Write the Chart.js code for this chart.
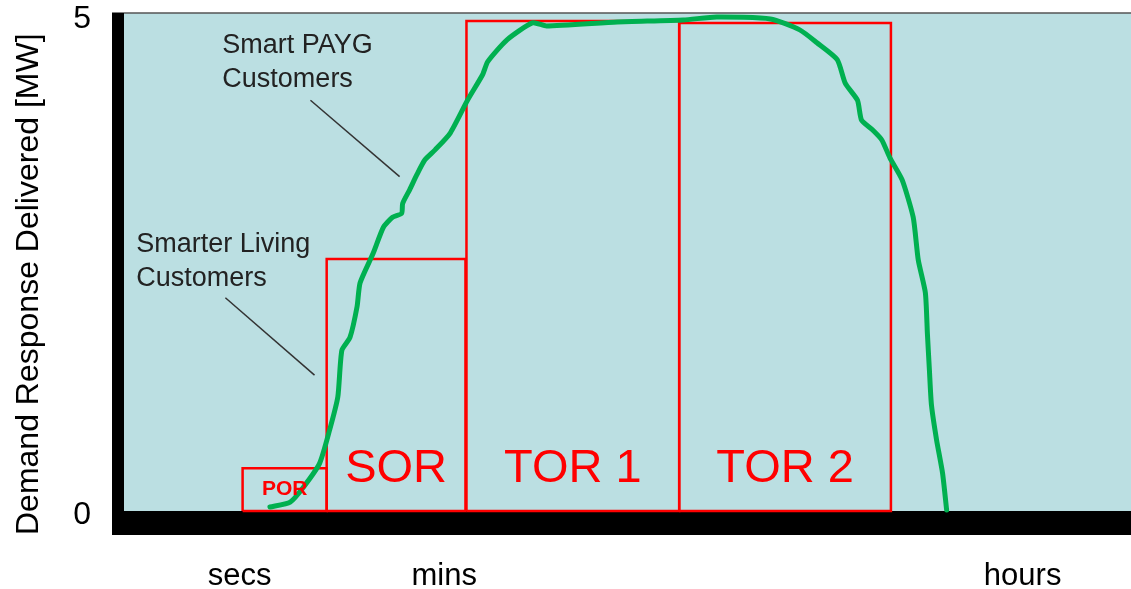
<!DOCTYPE html>
<html>
<head>
<meta charset="utf-8">
<script src="https://cdn.jsdelivr.net/npm/chart.js@4.4.1/dist/chart.umd.min.js"></script>
<style>
  html, body { margin: 0; padding: 0; background: #fff; }
  #wrap { width: 1131px; height: 589px; }
</style>
</head>
<body>
<div id="wrap"><canvas id="chart1"></canvas></div>
<script>
// ====== data (x = relative time 0..100, y = MW) ======
const curveX = [15.0, 17.0, 18.3, 19.9, 20.9, 21.7, 22.1, 22.9, 23.6, 23.9, 25.2, 26.2, 27.1, 28.0, 28.1,
  28.8, 29.5, 30.3, 31.3, 32.8, 34.5, 36.0, 36.5, 38.4, 40.9, 42.3, 49.3, 55.8, 59.1, 64.4, 67.3,
  69.0, 71.0, 71.8, 73.0, 73.4, 74.5, 75.4, 76.2, 77.4, 78.5, 79.0, 79.7, 79.9, 80.1, 80.3, 80.8,
  81.4, 81.8];
const curveY = [0.04, 0.09, 0.24, 0.48, 0.82, 1.15, 1.62, 1.75, 2.06, 2.30, 2.60, 2.86, 2.96, 3.00, 3.10,
  3.24, 3.39, 3.54, 3.64, 3.81, 4.14, 4.40, 4.53, 4.75, 4.92, 4.89, 4.93, 4.95, 4.98, 4.96, 4.85,
  4.72, 4.55, 4.31, 4.14, 3.94, 3.84, 3.74, 3.56, 3.34, 2.96, 2.53, 2.20, 1.79, 1.42, 1.07, 0.72,
  0.38, 0.01];

const boxNames = ['POR', 'SOR', 'TOR 1', 'TOR 2'];
const boxStart = [12.3, 20.6, 34.4, 55.4];
const boxEnd   = [20.6, 34.3, 55.4, 76.3];
const boxTop   = [0.43, 2.54, 4.94, 4.92];

const yTicks = [0, 5];
const xTickValues = [12.0, 32.2, 89.3];
const xTickLabels = ['secs', 'mins', 'hours'];

const noteText = [['Smart PAYG', 'Customers'], ['Smarter Living', 'Customers']];
const noteX = [10.3, 1.8];
const noteY = [4.62, 2.61];
const leaderFrom = [[19.0, 4.14], [10.6, 2.15]];
const leaderTo   = [[27.8, 3.37], [19.4, 1.37]];

const yTitle = 'Demand Response Delivered [MW]';

// ====== styles ======
const FONT = '"Liberation Sans", Arial, sans-serif';
const RED = '#ff0000';
const GREEN = '#00b050';
const PLOT_BG = '#bbdfe2';

// ====== datasets ======
const datasets = [];
datasets.push({
  label: 'Demand response',
  data: curveX.map((x, i) => ({x, y: curveY[i]})),
  borderColor: GREEN,
  borderWidth: 5,
  tension: 0.2,
  borderCapStyle: 'round',
  borderJoinStyle: 'round',
  pointRadius: 0
});
boxNames.forEach((name, i) => {
  datasets.push({
    label: name,
    data: [
      {x: boxStart[i], y: 0}, {x: boxStart[i], y: boxTop[i]},
      {x: boxEnd[i], y: boxTop[i]}, {x: boxEnd[i], y: 0}, {x: boxStart[i], y: 0}
    ],
    borderColor: RED,
    borderWidth: 2.5,
    tension: 0,
    pointRadius: 0
  });
});
leaderFrom.forEach((p, i) => {
  datasets.push({
    label: 'leader ' + i,
    data: [{x: p[0], y: p[1]}, {x: leaderTo[i][0], y: leaderTo[i][1]}],
    borderColor: '#333',
    borderWidth: 1.5,
    pointRadius: 0
  });
});

// ====== frame, labels, notes ======
const framePlugin = {
  id: 'frame',
  beforeDatasetsDraw(chart) {
    const {ctx, chartArea: a, scales: {y}} = chart;
    const y0 = y.getPixelForValue(0);
    ctx.save();
    ctx.fillStyle = PLOT_BG;
    ctx.fillRect(a.left - 6, a.top, a.right - a.left + 6, a.bottom - a.top);
    ctx.strokeStyle = '#555';
    ctx.lineWidth = 1.5;
    ctx.beginPath();
    ctx.moveTo(a.left - 6, a.top);
    ctx.lineTo(a.right, a.top);
    ctx.stroke();
    ctx.fillStyle = '#000';
    ctx.fillRect(a.left - 6, a.top, 12, a.bottom + 12 - a.top);
    ctx.fillRect(a.left - 6, y0, a.right - a.left + 6, a.bottom + 12 - y0);
    ctx.restore();
  },
  afterDatasetsDraw(chart) {
    const {ctx, chartArea: a, scales: {x, y}} = chart;
    ctx.save();

    // box labels
    ctx.fillStyle = RED;
    ctx.textAlign = 'center';
    ctx.textBaseline = 'middle';
    boxNames.forEach((name, i) => {
      const cx = (x.getPixelForValue(boxStart[i]) + x.getPixelForValue(boxEnd[i])) / 2;
      const cy = y.getPixelForValue(Math.min(boxTop[i] / 2, 0.42));
      ctx.font = i === 0 ? `bold 21px ${FONT}` : `47px ${FONT}`;
      ctx.fillText(name, cx, cy);
    });

    // notes
    ctx.fillStyle = '#222';
    ctx.textAlign = 'left';
    ctx.textBaseline = 'alphabetic';
    ctx.font = `27px ${FONT}`;
    noteText.forEach((lines, i) => {
      const px = x.getPixelForValue(noteX[i]);
      const py = y.getPixelForValue(noteY[i]);
      lines.forEach((t, k) => ctx.fillText(t, px, py + k * 34));
    });

    // y title
    ctx.fillStyle = '#000';
    ctx.font = `32px ${FONT}`;
    ctx.translate(a.left - 80, a.bottom + 12);
    ctx.rotate(-Math.PI / 2);
    ctx.fillText(yTitle, 0, 0);
    ctx.restore();
  }
};

new Chart(document.getElementById('chart1'), {
  type: 'line',
  data: {datasets},
  plugins: [framePlugin],
  options: {
    responsive: true,
    maintainAspectRatio: false,
    animation: false,
    layout: {padding: {top: 13, left: 0, right: 0, bottom: 0}},
    plugins: {
      legend: {display: false},
      tooltip: {enabled: false}
    },
    scales: {
      x: {
        type: 'linear',
        min: 0,
        max: 100,
        grid: {display: false, drawTicks: false},
        border: {display: false},
        ticks: {
          color: '#000',
          font: {family: FONT, size: 31},
          padding: 35,
          autoSkip: false,
          maxRotation: 0,
          callback: (v, i) => xTickLabels[i]
        },
        afterBuildTicks: s => { s.ticks = xTickValues.map(v => ({value: v})); },
        afterFit: s => { s.height = 66; s.paddingLeft = 0; s.paddingRight = 0; }
      },
      y: {
        min: -0.121,
        max: 5.02,
        grid: {display: false, drawTicks: false},
        border: {display: false},
        ticks: {
          color: '#000',
          font: {family: FONT, size: 32},
          padding: 27,
          labelOffset: 4
        },
        afterBuildTicks: s => { s.ticks = yTicks.map(v => ({value: v})); },
        afterFit: s => { s.width = 118; s.paddingTop = 0; s.paddingBottom = 0; }
      }
    }
  }
});
</script>
</body>
</html>
